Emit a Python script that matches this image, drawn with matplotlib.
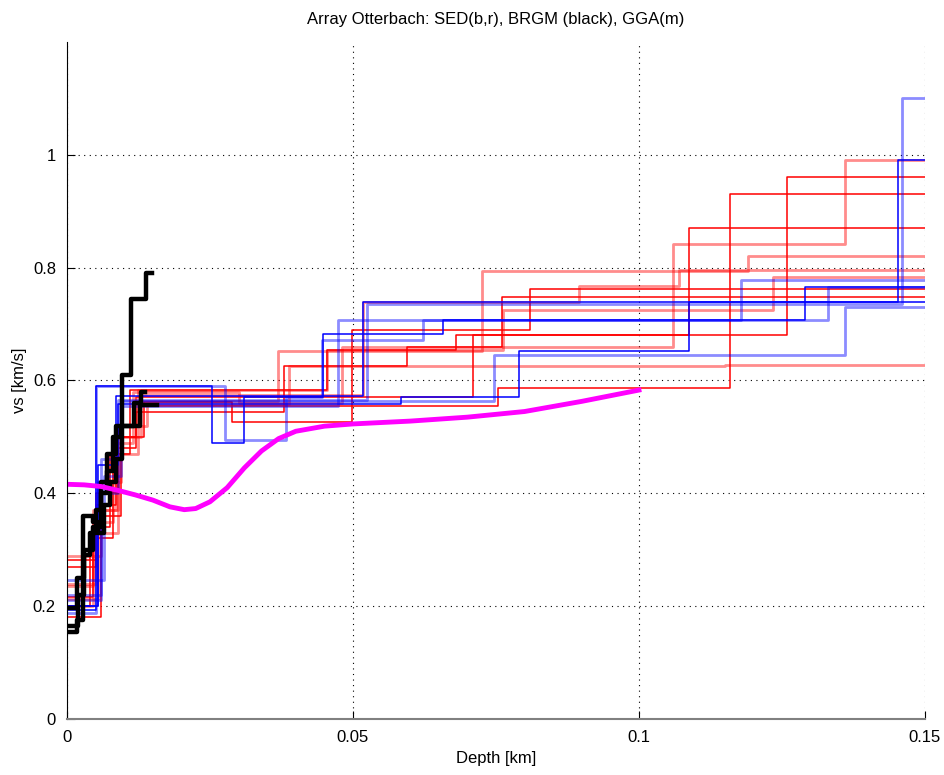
import matplotlib
matplotlib.use("Agg")
import matplotlib.pyplot as plt
import numpy as np

plt.rcParams['font.family'] = ['Liberation Sans Narrow', 'Liberation Sans', 'DejaVu Sans']

zmax = 0.15

# SED inversions, red set: layer tops [km] and vs [km/s]
red_depth = [
    [0, 0.0055, 0.009, 0.0125, 0.0369, 0.0726, 0.119],
    [0, 0.006, 0.0095, 0.014, 0.0388, 0.115],
    [0, 0.005, 0.0085, 0.012, 0.038, 0.0594, 0.076],
    [0, 0.0045, 0.0075, 0.011, 0.0455, 0.068, 0.1259],
    [0, 0.006, 0.0095, 0.0135, 0.0288, 0.0498, 0.081],
    [0, 0.005, 0.009, 0.013, 0.0754, 0.1159],
    [0, 0.004, 0.008, 0.012, 0.071, 0.1087],
    [0, 0.005, 0.0085, 0.013, 0.0518, 0.0895, 0.107],
    [0, 0.0045, 0.008, 0.0115, 0.030, 0.048, 0.106, 0.136],
    [0, 0.0045, 0.009, 0.0125, 0.0455, 0.0762, 0.1235],
]
red_vs = [
    [0.213, 0.33, 0.47, 0.563, 0.652, 0.794, 0.82],
    [0.288, 0.42, 0.52, 0.558, 0.625, 0.627],
    [0.27, 0.38, 0.50, 0.545, 0.625, 0.659, 0.748],
    [0.217, 0.34, 0.47, 0.584, 0.654, 0.68, 0.96],
    [0.181, 0.36, 0.50, 0.561, 0.527, 0.69, 0.762],
    [0.282, 0.40, 0.52, 0.554, 0.586, 0.93],
    [0.20, 0.32, 0.48, 0.570, 0.68, 0.87],
    [0.24, 0.37, 0.50, 0.575, 0.74, 0.767, 0.795],
    [0.20, 0.35, 0.49, 0.58, 0.56, 0.66, 0.842, 0.99],
    [0.235, 0.37, 0.52, 0.584, 0.654, 0.725, 0.783],
]
red_faint = [True, True, False, False, False, False, False, True, True, True]

# SED inversions, blue set
blue_depth = [
    [0, 0.005, 0.0253, 0.031, 0.0448, 0.0657, 0.129],
    [0, 0.005, 0.0277, 0.0383, 0.0445, 0.0622, 0.133],
    [0, 0.0065, 0.0095, 0.0473, 0.1178],
    [0, 0.0055, 0.0085, 0.0518, 0.1452],
    [0, 0.006, 0.009, 0.0525, 0.146],
    [0, 0.0055, 0.009, 0.0584, 0.079, 0.1087],
    [0, 0.006, 0.0095, 0.0747, 0.136],
]
blue_vs = [
    [0.194, 0.59, 0.49, 0.57, 0.682, 0.707, 0.766],
    [0.188, 0.59, 0.495, 0.57, 0.671, 0.707, 0.766],
    [0.247, 0.43, 0.554, 0.707, 0.778],
    [0.20, 0.42, 0.572, 0.739, 0.99],
    [0.21, 0.40, 0.565, 0.735, 1.10],
    [0.20, 0.45, 0.558, 0.57, 0.652, 0.739],
    [0.22, 0.46, 0.563, 0.645, 0.73],
]
blue_faint = [False, True, True, False, True, False, True]

# BRGM profiles (black)
brgm_depth = [
    [0, 0.0018, 0.0028, 0.0045, 0.0055, 0.0065, 0.0075, 0.0085, 0.0096, 0.0112, 0.0138],
    [0, 0.0017, 0.003, 0.004, 0.005, 0.006, 0.007, 0.0085, 0.0105, 0.0118, 0.013],
    [0, 0.002, 0.003, 0.0045, 0.006, 0.007, 0.008, 0.0095, 0.0128],
]
brgm_vs = [
    [0.155, 0.175, 0.36, 0.35, 0.33, 0.38, 0.42, 0.46, 0.61, 0.745, 0.79],
    [0.197, 0.25, 0.29, 0.33, 0.37, 0.42, 0.47, 0.52, 0.52, 0.56, 0.58],
    [0.165, 0.22, 0.30, 0.34, 0.40, 0.44, 0.50, 0.52, 0.557],
]
brgm_end = [0.0148, 0.0136, 0.0158]

# GGA profile (magenta)
gga_depth = [0, 0.003, 0.006, 0.009, 0.012, 0.015, 0.018, 0.0205, 0.0225, 0.025, 0.028,
             0.031, 0.034, 0.037, 0.040, 0.045, 0.05, 0.06, 0.07, 0.08, 0.09, 0.1]
gga_vs = [0.416, 0.415, 0.412, 0.405, 0.397, 0.388, 0.376, 0.371, 0.373, 0.385, 0.41,
          0.445, 0.475, 0.497, 0.51, 0.519, 0.523, 0.528, 0.535, 0.545, 0.563, 0.583]


def stairs(ax, d, v, end, **kw):
    ax.step(list(d) + [end], list(v) + [v[-1]], where='post', **kw)


fig = plt.figure(figsize=(9.45, 7.75), dpi=100)
ax = fig.add_axes([0.0709, 0.0723, 0.9079, 0.8735])

for d, v, f in zip(red_depth, red_vs, red_faint):
    if f:
        stairs(ax, d, v, zmax, color='red', lw=2.0, alpha=0.45)
    else:
        stairs(ax, d, v, zmax, color='red', lw=1.1)
for d, v, f in zip(blue_depth, blue_vs, blue_faint):
    if f:
        stairs(ax, d, v, zmax, color='blue', lw=2.0, alpha=0.45)
    else:
        stairs(ax, d, v, zmax, color='blue', lw=1.1)
for d, v, e in zip(brgm_depth, brgm_vs, brgm_end):
    stairs(ax, d, v, e, color='black', lw=3.2)
ax.plot(gga_depth, gga_vs, color='magenta', lw=3.5)

ax.set_xlim(0, zmax)
ax.set_ylim(0, 1.2)
ax.set_xticks([0, 0.05, 0.1, 0.15])
ax.set_xticklabels(['0', '0.05', '0.1', '0.15'])
ax.set_yticks([0, 0.2, 0.4, 0.6, 0.8, 1.0])
ax.set_yticklabels(['0', '0.2', '0.4', '0.6', '0.8', '1'])
ax.grid(True, linestyle=(0, (1, 4)), color='black', lw=0.8)
ax.tick_params(direction='in', length=6, labelsize=12, pad=8)
ax.spines['top'].set_visible(False)
ax.spines['right'].set_visible(False)
ax.spines['bottom'].set_color('#808080')
ax.spines['bottom'].set_linewidth(1.5)
ax.set_xlabel('Depth [km]', fontsize=12)
ax.set_ylabel('vs [km/s]', fontsize=12)
ax.set_title('Array Otterbach: SED(b,r), BRGM (black), GGA(m)', fontsize=12, pad=13)

fig.savefig('out.png', dpi=100)
